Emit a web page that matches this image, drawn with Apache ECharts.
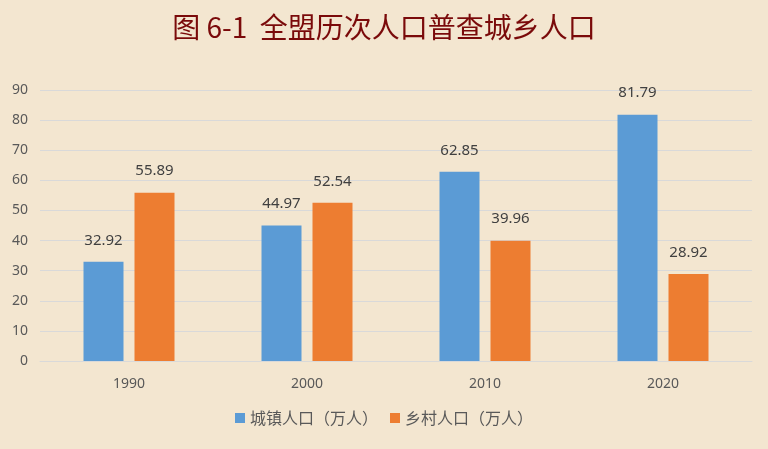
<!DOCTYPE html>
<html>
<head>
<meta charset="utf-8">
<script src="https://cdn.jsdelivr.net/npm/echarts@6/dist/echarts.min.js"></script>
<style>
html,body{margin:0;padding:0;background:#F3E6D0;}
#c{width:768px;height:449px;}
</style>
</head>
<body>
<div id="c"></div>
<script>
var categories = ['1990', '2000', '2010', '2020'];
var urban = [32.92, 44.97, 62.85, 81.79];
var rural = [55.89, 52.54, 39.96, 28.92];
var seriesNames = ['城镇人口（万人）', '乡村人口（万人）'];
var titleText = '图 6-1  全盟历次人口普查城乡人口';

var chart = echarts.init(document.getElementById('c'));
var labelStyle = {
  show: true, position: 'top', distance: 14,
  color: '#404040', fontSize: 15,
  fontFamily: 'Noto Sans, DejaVu Sans, sans-serif'
};
chart.setOption({
  backgroundColor: '#F3E6D0',
  title: {
    text: titleText, left: 'center', top: 8,
    textStyle: { color: '#7A0A0A', fontSize: 28, fontWeight: 'normal',
      fontFamily: 'Noto Sans CJK SC, sans-serif' }
  },
  legend: {
    data: seriesNames, bottom: 18, left: 'center',
    itemWidth: 10, itemHeight: 10, itemGap: 12,
    icon: 'rect',
    textStyle: { color: '#595959', fontSize: 16, fontFamily: 'Noto Sans CJK SC, sans-serif' }
  },
  grid: { left: 40, right: 16, top: 90, bottom: 88, containLabel: false },
  xAxis: {
    type: 'category', data: categories,
    axisLine: { lineStyle: { color: '#D9D9D9', width: 1 } },
    axisTick: { show: false },
    axisLabel: { color: '#595959', fontSize: 14, margin: 16,
      fontFamily: 'Noto Sans, sans-serif' }
  },
  yAxis: {
    type: 'value', min: 0, max: 90, interval: 10,
    axisLine: { show: false }, axisTick: { show: false },
    splitLine: { lineStyle: { color: '#D9D9D9', width: 1 } },
    axisLabel: { color: '#595959', fontSize: 14, margin: 12,
      fontFamily: 'Noto Sans, sans-serif' }
  },
  series: [
    { name: seriesNames[0], type: 'bar', data: urban, barWidth: 40, barGap: '27.5%',
      itemStyle: { color: '#5B9BD5' }, label: labelStyle },
    { name: seriesNames[1], type: 'bar', data: rural, barWidth: 40,
      itemStyle: { color: '#ED7D31' }, label: labelStyle }
  ]
});
</script>
</body>
</html>
